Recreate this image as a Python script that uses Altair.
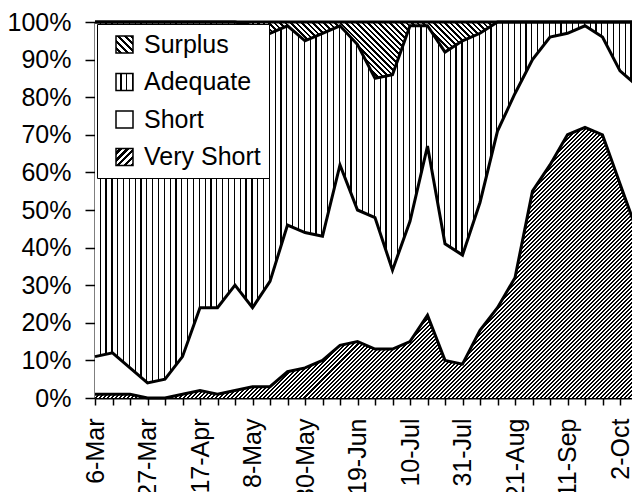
import json
import altair as alt
import pandas as pd

# ---------------- data ----------------
dates = ["6-Mar", "13-Mar", "20-Mar", "27-Mar", "3-Apr", "10-Apr", "17-Apr", "24-Apr",
         "1-May", "8-May", "15-May", "22-May", "30-May", "5-Jun", "12-Jun", "19-Jun",
         "26-Jun", "3-Jul", "10-Jul", "17-Jul", "24-Jul", "31-Jul", "7-Aug", "14-Aug",
         "21-Aug", "28-Aug", "4-Sep", "11-Sep", "18-Sep", "25-Sep", "2-Oct", "9-Oct"]
very_short = [1, 1, 1, 0, 0, 1, 2, 1, 2, 3, 3, 7, 8, 10, 14, 15,
              13, 13, 15, 22, 10, 9, 18, 24, 32, 55, 62, 70, 72, 70, 57, 44]
short = [10, 11, 7, 4, 5, 10, 22, 23, 28, 21, 28, 39, 36, 33, 48, 35,
         35, 21, 32, 45, 31, 29, 34, 47, 49, 35, 34, 27, 27, 26, 30, 39]
adequate = [89, 88, 92, 96, 95, 89, 76, 76, 70, 75, 66, 53, 51, 54, 37, 44,
            37, 52, 52, 32, 51, 57, 45, 29, 19, 10, 4, 3, 1, 4, 13, 17]
surplus = [0, 0, 0, 0, 0, 0, 0, 0, 0, 1, 3, 1, 5, 3, 1, 6,
           15, 14, 1, 1, 8, 5, 3, 0, 0, 0, 0, 0, 0, 0, 0, 0]
categories = ["Surplus", "Adequate", "Short", "Very Short"]
shown_labels = dates[::3]
y_ticks = list(range(0, 101, 10))

df = pd.DataFrame({"date": dates, "vs": very_short, "sh": short,
                   "ad": adequate, "su": surplus})

# ---------------- style ----------------
W, H = 542.5, 376
FONT = "Liberation Sans"
FS = 25


def stripe_stops(n, black_frac, c_bg="white", c_fg="black"):
    stops = []
    for i in range(n):
        a = i / n
        m = (i + 1 - black_frac) / n
        b = (i + 1) / n
        stops += [{"offset": a, "color": c_bg}, {"offset": m, "color": c_bg},
                  {"offset": m, "color": c_fg}, {"offset": b, "color": c_fg}]
    return stops


def hatch(kind, w, h, period, black_frac):
    if kind == "vertical":
        n = max(1, round(w / period))
        return {"gradient": "linear", "x1": 0, "y1": 0, "x2": 1, "y2": 0,
                "stops": stripe_stops(n, black_frac)}
    r = h / w
    k = (1 + r) / (1 + r * r)
    n = max(1, round((w + h) / period))
    if kind == "up":      # "////"
        return {"gradient": "linear", "x1": 0, "y1": 0, "x2": k, "y2": k * r,
                "stops": stripe_stops(n, black_frac)}
    return {"gradient": "linear", "x1": 0, "y1": 1, "x2": k, "y2": 1 - k * r,
            "stops": stripe_stops(n, black_frac)}


adeq_top = [v + s + a for v, s, a in zip(very_short, short, adequate)]
vs_fill = hatch("up", W, max(very_short) / 100 * H, 4.0, 0.5)
su_fill = hatch("down", W, (100 - min(adeq_top)) / 100 * H, 5.5, 0.45)
ad_fill = hatch("vertical", W, H, 5.85, 0.22)

leg_fills = [hatch("down", 17, 17, 6.5, 0.45),
             hatch("vertical", 17, 17, 5.67, 0.22),
             "white",
             hatch("up", 17, 17, 7, 0.5)]
leg_range = [alt.ExprRef(json.dumps(f)) if isinstance(f, dict) else f for f in leg_fills]

label_expr = "indexof(" + json.dumps(shown_labels) + ", datum.value) >= 0 ? datum.value : ''"

x_enc = alt.X("date:O", sort=dates, scale=alt.Scale(type="point", padding=0),
              axis=alt.Axis(title=None, labelAngle=-90, labelFont=FONT, labelFontSize=FS,
                            labelColor="black", labelPadding=13, tickSize=7,
                            tickColor="black", tickWidth=1.5, domainColor="black",
                            domainWidth=2, labelExpr=label_expr, labelOverlap=False,
                            grid=False))
y_scale = alt.Scale(domain=[0, 100], nice=False, zero=True)
y_axis = alt.Axis(title=None, values=y_ticks, labelExpr="datum.value + '%'",
                  labelFont=FONT, labelFontSize=FS, labelColor="black",
                  labelPadding=14, tickSize=10, tickColor="black", tickWidth=1.5,
                  domainColor="black", domainWidth=2, grid=False)

base = alt.Chart(df).transform_calculate(
    c1="datum.vs",
    c2="datum.vs + datum.sh",
    c3="datum.vs + datum.sh + datum.ad",
    c4="datum.vs + datum.sh + datum.ad + datum.su",
)

area_vs = base.mark_area(fill=vs_fill, opacity=1).encode(
    x=x_enc, y=alt.Y("c1:Q", scale=y_scale, axis=y_axis))
area_sh = base.mark_area(fill="white", opacity=1).encode(
    x=x_enc, y=alt.Y("c2:Q", scale=y_scale, axis=y_axis), y2="c1:Q")
area_ad = base.mark_area(fill=ad_fill, opacity=1).encode(
    x=x_enc, y=alt.Y("c3:Q", scale=y_scale, axis=y_axis), y2="c2:Q")
area_su = base.mark_area(fill=su_fill, opacity=1).encode(
    x=x_enc, y=alt.Y("c4:Q", scale=y_scale, axis=y_axis), y2="c3:Q")

lines = [base.mark_line(color="black", strokeWidth=3).encode(
    x=x_enc, y=alt.Y(f"{c}:Q", scale=y_scale, axis=y_axis)) for c in ["c1", "c2", "c3", "c4"]]

legend_df = pd.DataFrame({"cat": categories})
legend_layer = alt.Chart(legend_df).mark_square(filled=True).encode(
    fill=alt.Fill("cat:N",
                  scale=alt.Scale(domain=categories, range=leg_range),
                  legend=alt.Legend(orient="none", legendX=2, legendY=2, title=None,
                                    symbolType="square", symbolSize=289,
                                    symbolStrokeColor="black", symbolStrokeWidth=1.5,
                                    symbolOpacity=1, symbolOffset=7,
                                    labelFont=FONT, labelFontSize=FS, labelColor="black",
                                    labelOffset=7, rowPadding=11.5, padding=8,
                                    labelExpr="datum.label + '\u00a0\u00a0'",
                                    strokeColor="black", fillColor="white",
                                    labelLimit=400))
).transform_filter("false")

chart = alt.layer(area_vs, area_sh, area_ad, area_su, *lines, legend_layer).properties(
    width=W, height=H,
    padding={"left": 87, "top": 14, "right": -5.5, "bottom": 94},
    autosize=alt.AutoSizeParams(type="none"),
    background="white",
).configure_view(stroke=None)

chart.save("out.html", embed_options={"renderer": "svg", "actions": False})
